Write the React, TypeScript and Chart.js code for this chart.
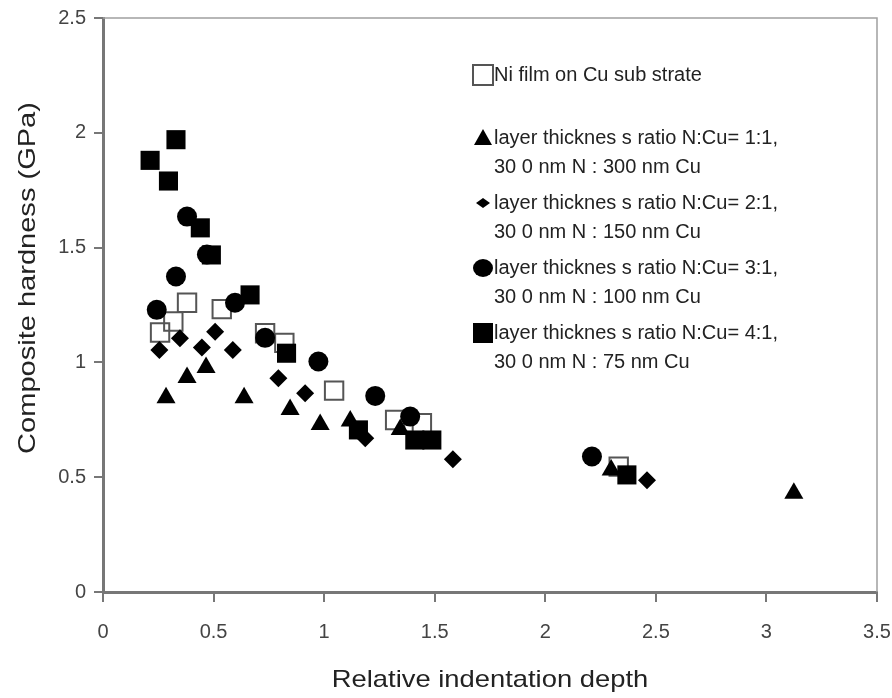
import { useEffect, useRef } from 'react';
import { Chart, registerables } from 'chart.js';

Chart.register(...registerables);

const FONT = '"Liberation Sans", Arial, Helvetica, sans-serif';

// Ni film on Cu substrate (open squares)
const niFilmX = [0.258, 0.318, 0.38, 0.537, 0.733, 0.82, 1.045, 1.321, 1.442, 2.332];
const niFilmY = [1.13, 1.178, 1.26, 1.232, 1.127, 1.085, 0.877, 0.749, 0.735, 0.546];

// layer thickness ratio 1:1 (triangles)
const ratio11X = [0.285, 0.38, 0.466, 0.638, 0.846, 0.982, 1.118, 1.344, 2.298, 3.124];
const ratio11Y = [0.846, 0.934, 0.978, 0.846, 0.795, 0.73, 0.745, 0.708, 0.531, 0.43];

// layer thickness ratio 2:1 (diamonds)
const ratio21X = [0.255, 0.348, 0.447, 0.507, 0.587, 0.793, 0.914, 1.186, 1.582, 2.46];
const ratio21Y = [1.054, 1.105, 1.065, 1.134, 1.054, 0.931, 0.866, 0.67, 0.578, 0.487];

// layer thickness ratio 3:1 (circles)
const ratio31X = [0.243, 0.33, 0.38, 0.47, 0.597, 0.733, 0.974, 1.231, 1.389, 2.211];
const ratio31Y = [1.229, 1.374, 1.635, 1.47, 1.26, 1.107, 1.004, 0.854, 0.764, 0.59];

// layer thickness ratio 4:1 (filled squares)
const ratio41X = [0.213, 0.296, 0.33, 0.44, 0.49, 0.665, 0.83, 1.155, 1.41, 1.487, 2.369];
const ratio41Y = [1.88, 1.79, 1.97, 1.586, 1.468, 1.294, 1.04, 0.706, 0.662, 0.662, 0.51];

const xTickLabels = ['0', '0.5', '1', '1.5', '2', '2.5', '3', '3.5'];
const yTickLabels = ['0', '0.5', '1', '1.5', '2', '2.5'];

const xTitle = 'Relative indentation depth';
const yTitle = 'Composite hardness (GPa)';

const legendLabels: string[][] = [
  ['Ni film on Cu sub strate'],
  ['layer thicknes s ratio N:Cu= 1:1,', '30 0 nm N : 300 nm Cu'],
  ['layer thicknes s ratio N:Cu= 2:1,', '30 0 nm N : 150 nm Cu'],
  ['layer thicknes s ratio N:Cu= 3:1,', '30 0 nm N : 100 nm Cu'],
  ['layer thicknes s ratio N:Cu= 4:1,', '30 0 nm N : 75 nm Cu'],
];
const legendMarkers = ['openSquare', 'triangle', 'diamond', 'circle', 'square'];

const pts = (xs: number[], ys: number[]) => xs.map((x, i) => ({ x, y: ys[i] }));

function drawMarker(ctx: CanvasRenderingContext2D, kind: string, x: number, y: number) {
  ctx.save();
  ctx.fillStyle = '#000';
  ctx.strokeStyle = '#555';
  ctx.lineWidth = 2;
  ctx.beginPath();
  if (kind === 'openSquare') {
    ctx.rect(x - 10, y - 10, 20, 20);
    ctx.stroke();
  } else if (kind === 'square') {
    ctx.rect(x - 10, y - 10, 20, 20);
    ctx.fill();
  } else if (kind === 'triangle') {
    ctx.moveTo(x, y - 9);
    ctx.lineTo(x + 9, y + 7);
    ctx.lineTo(x - 9, y + 7);
    ctx.closePath();
    ctx.fill();
  } else if (kind === 'diamond') {
    ctx.moveTo(x - 7, y);
    ctx.lineTo(x, y - 5);
    ctx.lineTo(x + 7, y);
    ctx.lineTo(x, y + 5);
    ctx.closePath();
    ctx.fill();
  } else if (kind === 'circle') {
    ctx.ellipse(x, y, 10, 9, 0, 0, Math.PI * 2);
    ctx.fill();
  }
  ctx.restore();
}

function stretchedText(ctx: CanvasRenderingContext2D, text: string, x: number, y: number, rot: number, sx: number) {
  ctx.save();
  ctx.translate(x, y);
  ctx.rotate(rot);
  ctx.scale(sx, 1);
  ctx.fillText(text, 0, 0);
  ctx.restore();
}

const framePlugin = {
  id: 'frame',
  beforeDatasetsDraw(chart: any) {
    const { ctx, chartArea: a } = chart;
    ctx.save();
    ctx.strokeStyle = '#a0a0a0';
    ctx.lineWidth = 1.5;
    ctx.beginPath();
    ctx.moveTo(a.left, a.top);
    ctx.lineTo(a.right, a.top);
    ctx.lineTo(a.right, a.bottom);
    ctx.stroke();
    ctx.restore();
  },
  afterDraw(chart: any) {
    const { ctx } = chart;
    ctx.save();
    ctx.fillStyle = '#222';
    ctx.textBaseline = 'middle';
    ctx.textAlign = 'center';
    ctx.font = `24px ${FONT}`;
    stretchedText(ctx, xTitle, 490, 680, 0, 1.14);
    stretchedText(ctx, yTitle, 28, 278, -Math.PI / 2, 1.21);

    ctx.textAlign = 'left';
    ctx.font = `20px ${FONT}`;
    const ys = [75, 138, 203, 268, 333];
    legendLabels.forEach((lines, i) => {
      drawMarker(ctx, legendMarkers[i], 483, ys[i]);
      lines.forEach((t, j) => ctx.fillText(t, 494, ys[i] + j * 29));
    });
    ctx.restore();
  },
};

export default function App() {
  const ref = useRef<HTMLCanvasElement>(null);
  useEffect(() => {
    document.body.style.margin = '0';
    const tickFont = { family: FONT, size: 20 };
    const chart = new Chart(ref.current as HTMLCanvasElement, {
      type: 'scatter',
      data: {
        datasets: [
          {
            label: legendLabels[0].join(' '),
            data: pts(niFilmX, niFilmY),
            pointStyle: 'rect',
            pointRadius: 13,
            backgroundColor: 'rgba(255,255,255,0)',
            borderColor: '#555',
            borderWidth: 2,
            order: 5,
          },
          {
            label: legendLabels[1].join(' '),
            data: pts(ratio11X, ratio11Y),
            pointStyle: 'triangle',
            pointRadius: 11,
            backgroundColor: '#000',
            borderColor: '#000',
            borderWidth: 0,
            order: 4,
          },
          {
            label: legendLabels[2].join(' '),
            data: pts(ratio21X, ratio21Y),
            pointStyle: 'rectRot',
            pointRadius: 9,
            backgroundColor: '#000',
            borderColor: '#000',
            borderWidth: 0,
            order: 3,
          },
          {
            label: legendLabels[3].join(' '),
            data: pts(ratio31X, ratio31Y),
            pointStyle: 'circle',
            pointRadius: 10,
            backgroundColor: '#000',
            borderColor: '#000',
            borderWidth: 0,
            order: 2,
          },
          {
            label: legendLabels[4].join(' '),
            data: pts(ratio41X, ratio41Y),
            pointStyle: 'rect',
            pointRadius: 13.5,
            backgroundColor: '#000',
            borderColor: '#000',
            borderWidth: 0,
            order: 1,
          },
        ],
      },
      options: {
        animation: false,
        responsive: true,
        maintainAspectRatio: false,
        layout: { padding: { top: 18, right: 15, left: 0, bottom: 0 } },
        plugins: { legend: { display: false }, tooltip: { enabled: false } },
        scales: {
          x: {
            type: 'linear',
            min: 0,
            max: 3.5,
            ticks: {
              stepSize: 0.5,
              font: tickFont,
              color: '#444',
              padding: 18,
              maxRotation: 0,
              autoSkip: false,
              callback: (_v: any, i: number) => xTickLabels[i],
            },
            grid: { drawOnChartArea: false, drawTicks: true, tickLength: 10, color: '#777', lineWidth: 2 },
            border: { display: true, color: '#777', width: 3 },
            afterFit: (s: any) => {
              s.height = 106;
              s.paddingLeft = 0;
              s.paddingRight = 0;
            },
          },
          y: {
            type: 'linear',
            min: 0,
            max: 2.5,
            ticks: {
              stepSize: 0.5,
              font: tickFont,
              color: '#444',
              padding: 8,
              autoSkip: false,
              callback: (_v: any, i: number) => yTickLabels[i],
            },
            grid: { drawOnChartArea: false, drawTicks: true, tickLength: 9, color: '#777', lineWidth: 2 },
            border: { display: true, color: '#777', width: 3 },
            afterFit: (s: any) => {
              s.width = 103;
              s.paddingTop = 0;
              s.paddingBottom = 0;
            },
          },
        },
      },
      plugins: [framePlugin],
    } as any);
    return () => chart.destroy();
  }, []);
  return (
    <div style={{ width: 892, height: 698, position: 'relative' }}>
      <canvas ref={ref} />
    </div>
  );
}
